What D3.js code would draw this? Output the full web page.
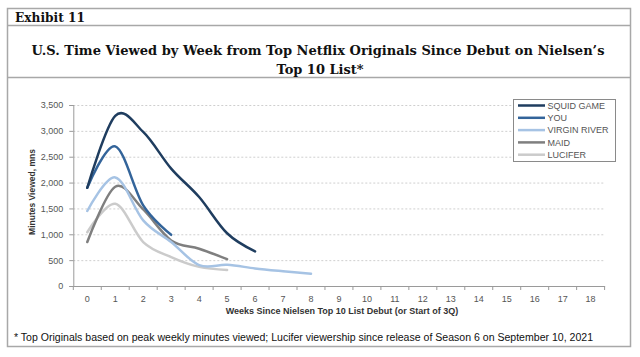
<!DOCTYPE html>
<html><head><meta charset="utf-8">
<script src="https://cdn.jsdelivr.net/npm/d3@7"></script>
<style>body{margin:0;background:#fff}svg{display:block}</style>
</head><body>
<svg id="c" width="640" height="357"></svg>
<script>
const weeks = d3.range(0, 19);
const seriesNames = ["SQUID GAME", "YOU", "VIRGIN RIVER", "MAID", "LUCIFER"];
const squidGame = [1900, 3290, 2980, 2270, 1720, 1020, 670];
const you = [1900, 2700, 1560, 990];
const virginRiver = [1450, 2100, 1270, 850, 405, 410, 340, 285, 235];
const maid = [850, 1920, 1480, 880, 720, 520];
const lucifer = [1040, 1590, 850, 560, 370, 310];
const yTicks = [0, 500, 1000, 1500, 2000, 2500, 3000, 3500];
const colors = ["#1f3d5f", "#33649a", "#a6c3e4", "#7f7f7f", "#cbcbcb"];
const seriesValues = [squidGame, you, virginRiver, maid, lucifer];

const svg = d3.select("#c");
const sans = "'Liberation Sans', Arial, sans-serif";
const serif = "'DejaVu Serif', 'Liberation Serif', serif";

// frame
svg.append("rect").attr("x", 7.5).attr("y", 8.5).attr("width", 623).attr("height", 338)
  .attr("fill", "none").attr("stroke", "#a8a8a8").attr("stroke-width", 1.5);
svg.append("line").attr("x1", 7.5).attr("x2", 630.5).attr("y1", 25.5).attr("y2", 25.5)
  .attr("stroke", "#a8a8a8").attr("stroke-width", 1.5);
svg.append("line").attr("x1", 7.5).attr("x2", 630.5).attr("y1", 77.5).attr("y2", 77.5)
  .attr("stroke", "#a8a8a8").attr("stroke-width", 1.5);

svg.append("text").attr("x", 15).attr("y", 21.5).text("Exhibit 11")
  .attr("font-family", serif).attr("font-weight", "bold").attr("font-size", 13.5)
  .attr("textLength", 70).attr("lengthAdjust", "spacingAndGlyphs").attr("fill", "#111");
svg.append("text").attr("x", 318).attr("y", 55).attr("text-anchor", "middle")
  .text("U.S. Time Viewed by Week from Top Netflix Originals Since Debut on Nielsen\u2019s")
  .attr("font-family", serif).attr("font-weight", "bold").attr("font-size", 13.3)
  .attr("textLength", 573).attr("lengthAdjust", "spacingAndGlyphs").attr("fill", "#111");
svg.append("text").attr("x", 320).attr("y", 73.5).attr("text-anchor", "middle")
  .text("Top 10 List*")
  .attr("font-family", serif).attr("font-weight", "bold").attr("font-size", 13.3)
  .attr("textLength", 87).attr("lengthAdjust", "spacingAndGlyphs").attr("fill", "#111");

const x = d3.scaleBand().domain(weeks).range([73.3, 604.6]).padding(0);
const y = d3.scaleLinear().domain([0, 3500]).range([286, 105]);
const cx = d => x(d) + x.bandwidth() / 2;

// gridlines
svg.append("g").selectAll("line").data(yTicks.filter(d => d > 0)).join("line")
  .attr("x1", 73.3).attr("x2", 604.6).attr("y1", d => y(d) + 0.5).attr("y2", d => y(d) + 0.5)
  .attr("stroke", "#cfcfcf").attr("stroke-dasharray", "2,2").attr("stroke-width", 1);

// y axis
const yAxis = svg.append("g").attr("transform", "translate(73.3,0)")
  .call(d3.axisLeft(y).tickValues(yTicks).tickFormat(d3.format(",")).tickSize(4).tickPadding(6));
yAxis.select(".domain").attr("stroke", "#9a9a9a");
yAxis.selectAll(".tick line").attr("stroke", "#9a9a9a");
yAxis.selectAll("text").attr("font-family", sans).attr("font-size", 9).attr("fill", "#555");

// x axis
const xAxis = svg.append("g").attr("transform", "translate(0,286)")
  .call(d3.axisBottom(x).tickSize(0).tickPadding(10));
xAxis.select(".domain").attr("stroke", "#9a9a9a");
xAxis.selectAll("text").attr("font-family", sans).attr("font-size", 9).attr("fill", "#555");
svg.append("g").selectAll("line").data(weeks.concat([19])).join("line")
  .attr("x1", d => 73.3 + d * x.bandwidth()).attr("x2", d => 73.3 + d * x.bandwidth())
  .attr("y1", 286).attr("y2", 290).attr("stroke", "#9a9a9a");

// axis titles
svg.append("text").attr("transform", "translate(35,192) rotate(-90)").attr("text-anchor", "middle")
  .text("Minutes Viewed, mns").attr("font-family", sans).attr("font-weight", "bold")
  .attr("font-size", 8.5).attr("fill", "#333");
svg.append("text").attr("x", 342).attr("y", 314).attr("text-anchor", "middle")
  .text("Weeks Since Nielsen Top 10 List Debut (or Start of 3Q)")
  .attr("font-family", sans).attr("font-weight", "bold").attr("font-size", 9).attr("fill", "#333");

// lines
const line = d3.line().x((d, i) => cx(i)).y(d => y(d)).curve(d3.curveCardinal.tension(0));
const order = [4, 3, 2, 1, 0];
svg.append("g").selectAll("path").data(order).join("path")
  .attr("d", i => line(seriesValues[i])).attr("fill", "none")
  .attr("stroke", i => colors[i]).attr("stroke-width", 2.5).attr("stroke-linecap", "round");

// legend
const lg = svg.append("g");
lg.append("rect").attr("x", 513.5).attr("y", 99.5).attr("width", 102).attr("height", 62)
  .attr("fill", "#fff").attr("stroke", "#8a8a8a").attr("stroke-width", 1);
seriesNames.forEach((n, i) => {
  const yy = 105.5 + i * 12.3;
  lg.append("line").attr("x1", 518).attr("x2", 545).attr("y1", yy).attr("y2", yy)
    .attr("stroke", colors[i]).attr("stroke-width", 2.5);
  lg.append("text").attr("x", 547.5).attr("y", yy + 3.3).text(n)
    .attr("font-family", sans).attr("font-size", 9).attr("fill", "#555");
});

// footnote
svg.append("text").attr("x", 14).attr("y", 341)
  .text("* Top Originals based on peak weekly minutes viewed; Lucifer viewership since release of Season 6 on September 10, 2021")
  .attr("font-family", sans).attr("font-size", 10).attr("fill", "#111")
  .attr("textLength", 579).attr("lengthAdjust", "spacingAndGlyphs");
</script>
</body></html>
